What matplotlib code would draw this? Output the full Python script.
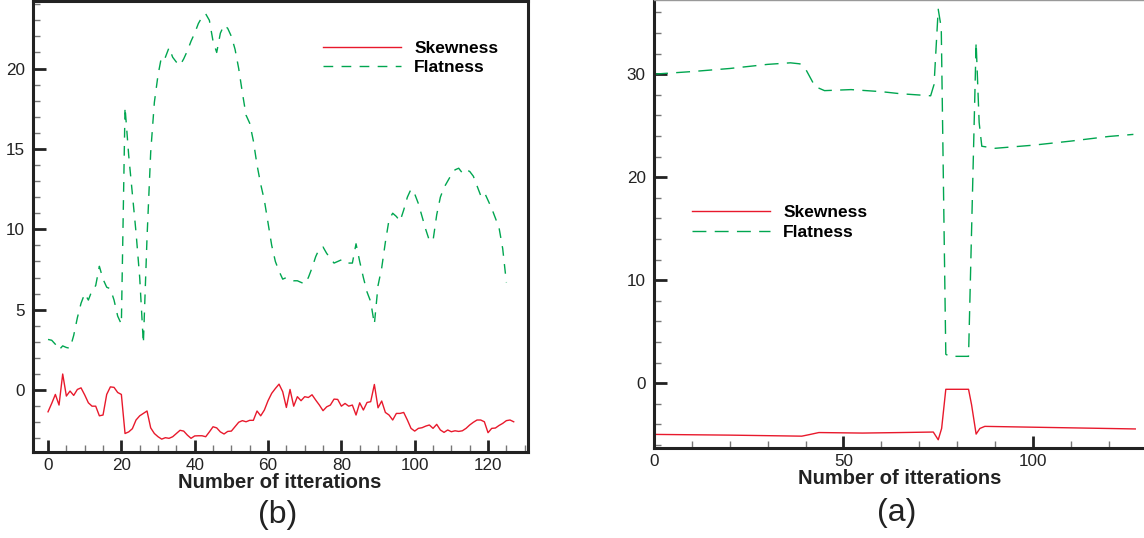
import matplotlib.pyplot as plt
from matplotlib.ticker import MultipleLocator

plt.rcParams['font.family'] = ['Liberation Sans', 'DejaVu Sans']

# panel (b): 128 iterations
skew_b = [-1.35, -0.83, -0.27, -0.93, 1.0, -0.37, -0.06, -0.33, 0.04, 0.14,
          -0.3, -0.79, -1.0, -1.0, -1.6, -1.55, -0.27, 0.2, 0.17, -0.15,
          -0.27, -2.7, -2.6, -2.4, -1.86, -1.6, -1.45, -1.3, -2.35, -2.7,
          -2.9, -3.05, -2.96, -3.0, -2.9, -2.7, -2.5, -2.55, -2.8, -3.0,
          -2.85, -2.84, -2.84, -2.9, -2.6, -2.28, -2.35, -2.6, -2.73, -2.57,
          -2.55, -2.28, -2.0, -1.9, -1.97, -1.88, -1.88, -1.3, -1.6, -1.24,
          -0.66, -0.2, 0.1, 0.37, -0.1, -1.08, 0.04, -1.0, -0.41, -0.66,
          -0.41, -0.46, -0.29, -0.62, -0.93, -1.28, -1.04, -0.93, -0.56, -0.58,
          -1.0, -0.83, -1.0, -0.93, -1.55, -0.79, -1.24, -0.77, -0.72, 0.35,
          -1.1, -0.68, -1.39, -1.55, -1.86, -1.45, -1.45, -1.39, -1.86, -2.38,
          -2.55, -2.38, -2.34, -2.24, -2.17, -2.38, -2.13, -2.48, -2.63, -2.48,
          -2.59, -2.53, -2.57, -2.53, -2.38, -2.17, -2.0, -1.86, -1.86, -1.97,
          -2.65, -2.38, -2.36, -2.2, -2.07, -1.9, -1.86, -1.97]
flat_b = [3.15, 3.1, 2.85, 2.5, 2.75, 2.65, 2.6, 3.4, 4.5, 5.4,
          6.0, 5.6, 6.2, 6.5, 7.7, 6.9, 6.4, 6.3, 5.6, 4.6,
          4.1, 17.6, 14.6, 12.2, 9.8, 7.0, 2.9, 9.5, 14.8, 17.9,
          19.6, 20.8, 20.7, 21.3, 20.7, 20.4, 20.2, 20.6, 21.1, 21.7,
          22.2, 22.8, 23.2, 23.4, 23.0, 21.7, 21.0, 22.2, 22.7, 22.5,
          22.0, 21.2, 20.0, 18.5, 17.1, 16.6, 15.5, 14.0, 12.8, 11.8,
          10.4, 9.0, 8.0, 7.4, 6.9, 7.0, 6.9, 6.8, 6.8, 6.7,
          6.6, 7.0, 7.6, 8.3, 8.8, 8.9, 8.5, 8.2, 7.9, 8.0,
          8.1, 7.9, 7.9, 7.9, 9.1, 8.0, 7.0, 6.1, 5.5, 4.1,
          6.5, 7.6, 9.2, 10.6, 11.0, 10.8, 10.5, 11.2, 12.0, 12.5,
          12.2, 11.6, 10.8, 10.0, 9.3, 9.3, 10.9, 12.0, 12.6, 13.0,
          13.4, 13.7, 13.8, 13.5, 13.7, 13.6, 13.3, 12.7, 12.1, 12.3,
          11.8, 11.3, 10.7, 10.1, 8.8, 6.7]
it_skew_b = list(range(len(skew_b)))
it_flat_b = list(range(len(flat_b)))

# panel (a)
it_skew_a = [0, 20, 39, 41, 43.5, 55, 65, 73.7, 75, 75.9, 77, 83, 83.8, 85,
             86, 87.3, 127]
skew_a = [-4.98, -5.05, -5.15, -5.0, -4.8, -4.85, -4.8, -4.75, -5.5, -4.4,
          -0.6, -0.6, -2.1, -4.95, -4.4, -4.2, -4.45]
it_flat_a = [0, 10, 20, 30, 36, 38.5, 40, 42.5, 45, 52, 60, 65, 73, 73.9, 75,
             75.8, 77, 78, 83, 85, 85.8, 86.5, 90, 100, 110, 120, 126.5]
flat_a = [30.0, 30.25, 30.55, 30.95, 31.1, 31.0, 30.5, 28.8, 28.4, 28.5,
          28.3, 28.1, 27.9, 29.0, 36.3, 34.5, 2.8, 2.6, 2.6, 33.1, 25.3, 23.0,
          22.8, 23.1, 23.5, 23.95, 24.15]

RED = '#e8192c'
GREEN = '#00a650'

fig = plt.figure(figsize=(11.44, 5.38), dpi=100)
axb = fig.add_axes([33 / 1144, 86 / 538, 495 / 1144, 451 / 538])
axa = fig.add_axes([654 / 1144, 90 / 538, 490 / 1144, 448 / 538])

axb.plot(it_skew_b, skew_b, color=RED, lw=1.0, label='Skewness')
axb.plot(it_flat_b, flat_b, color=GREEN, lw=1.0, dashes=(7, 6), label='Flatness')
axb.set_xlim(-4.1, 130.9)
axb.set_ylim(-3.85, 24.2)
axb.xaxis.set_major_locator(MultipleLocator(20))
axb.xaxis.set_minor_locator(MultipleLocator(5))
axb.yaxis.set_major_locator(MultipleLocator(5))
axb.yaxis.set_minor_locator(MultipleLocator(1))
for s in axb.spines.values():
    s.set_linewidth(2.2)
    s.set_color('#222222')

axa.plot(it_skew_a, skew_a, color=RED, lw=1.0, label='Skewness')
axa.plot(it_flat_a, flat_a, color=GREEN, lw=1.0, dashes=(10, 6), label='Flatness')
axa.set_xlim(0, 129.3)
axa.set_ylim(-6.3, 37.2)
axa.xaxis.set_major_locator(MultipleLocator(50))
axa.xaxis.set_minor_locator(MultipleLocator(10))
axa.yaxis.set_major_locator(MultipleLocator(10))
axa.yaxis.set_minor_locator(MultipleLocator(2))
axa.spines['left'].set_linewidth(2.2)
axa.spines['bottom'].set_linewidth(2.2)
axa.spines['left'].set_color('#222222')
axa.spines['bottom'].set_color('#222222')
axa.spines['top'].set_linewidth(1.0)
axa.spines['top'].set_color('#999999')
axa.spines['right'].set_visible(False)

for ax in (axb, axa):
    ax.tick_params(which='major', direction='in', length=9, width=2,
                   labelsize=12.3, color='#222222', labelcolor='#222222')
    ax.tick_params(which='minor', direction='in', length=5, width=1,
                   color='#777777')
    ax.tick_params(axis='y', which='major', pad=6)
    ax.tick_params(axis='x', which='major', pad=4)
    ax.tick_params(top=False, right=False, which='both')

axb.legend(loc='upper left', bbox_to_anchor=(0.586, 0.912), frameon=False,
           borderpad=0, borderaxespad=0, handlelength=4.5, handletextpad=0.75,
           labelspacing=0.25, prop={'weight': 'bold', 'size': 12.5})
axa.legend(loc='upper left', bbox_to_anchor=(0.0776, 0.542), frameon=False,
           borderpad=0, borderaxespad=0, handlelength=4.5, handletextpad=0.75,
           labelspacing=0.28, prop={'weight': 'bold', 'size': 12.5})

fig.text(280 / 1144, 1 - 483 / 538, 'Number of itterations', ha='center',
         va='center', fontsize=14.5, fontweight='bold', color='#222222')
fig.text(278 / 1144, 1 - 515 / 538, '(b)', ha='center', va='center',
         fontsize=23, color='#222222')
fig.text(900 / 1144, 1 - 478 / 538, 'Number of itterations', ha='center',
         va='center', fontsize=14.5, fontweight='bold', color='#222222')
fig.text(897 / 1144, 1 - 513 / 538, '(a)', ha='center', va='center',
         fontsize=23, color='#222222')

fig.savefig('out.png', dpi=100)
